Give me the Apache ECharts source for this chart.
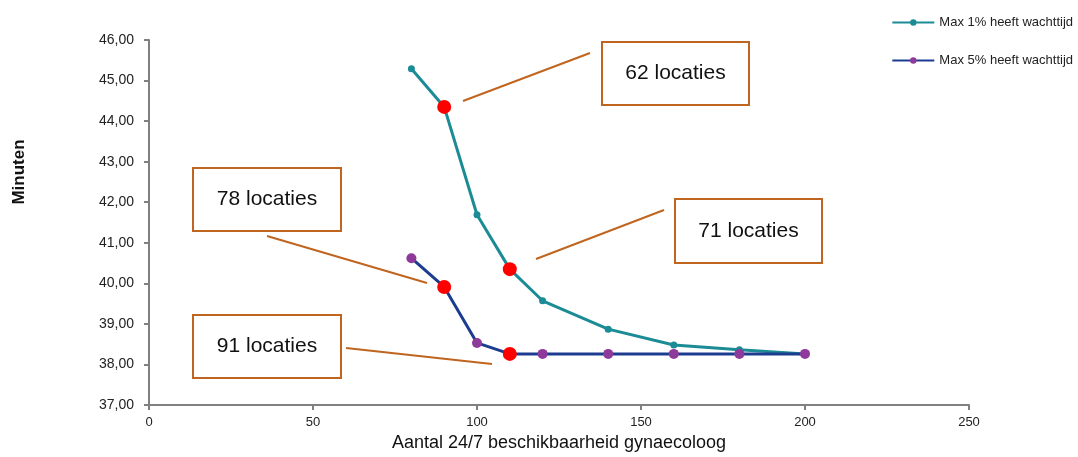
<!DOCTYPE html>
<html><head><meta charset="utf-8">
<script src="https://cdn.jsdelivr.net/npm/echarts@6/dist/echarts.min.js"></script>
<style>html,body{margin:0;padding:0;background:#fff}#c{width:1078px;height:457px}</style>
</head><body><div id="c"></div>
<script>
var xValues = [80, 90, 100, 110, 120, 140, 160, 180, 200];
var max1 = [45.29, 44.35, 41.69, 40.35, 39.57, 38.87, 38.48, 38.36, 38.26];
var max5 = [40.62, 39.91, 38.53, 38.26, 38.26, 38.26, 38.26, 38.26, 38.26];
var highlight1 = [90, 110];
var highlight5 = [90, 110];
var seriesNames = ['Max 1% heeft wachttijd', 'Max 5% heeft wachttijd'];
var annotations = ['62 locaties', '78 locaties', '71 locaties', '91 locaties'];
var yTitle = 'Minuten';
var xTitle = 'Aantal 24/7 beschikbaarheid gynaecoloog';

function build(vals, hl) {
  return xValues.map(function (x, i) {
    var p = { value: [x, vals[i]] };
    if (hl.indexOf(x) >= 0) { p.symbolSize = 14; p.itemStyle = { color: '#ff0000' }; }
    return p;
  });
}
var chart = echarts.init(document.getElementById('c'));
var font = 'Liberation Sans, Arial, sans-serif';
var orange = '#c0651f';
function box(x, y, w, h, text) {
  return {
    type: 'group', left: x, top: y, z: 10, children: [
      { type: 'rect', shape: { x: 0, y: 0, width: w, height: h }, style: { fill: '#fff', stroke: orange, lineWidth: 2 } },
      { type: 'text', x: w / 2, y: h / 2, style: { text: text, fill: '#111', font: '21px ' + font, textAlign: 'center', textVerticalAlign: 'middle' } }
    ]
  };
}
function line(x1, y1, x2, y2) {
  return { type: 'line', z: 10, shape: { x1: x1, y1: y1, x2: x2, y2: y2 }, style: { stroke: orange, lineWidth: 2 } };
}
chart.setOption({
  animation: false,
  grid: { left: 149, right: 109, top: 40, bottom: 52 },
  legend: {
    orient: 'vertical', right: 0, top: 11, itemGap: 25, itemWidth: 42, itemHeight: 8,
    textStyle: { fontFamily: font, fontSize: 13, color: '#222' },
    data: seriesNames
  },
  xAxis: {
    type: 'value', min: 0, max: 250, interval: 50,
    name: xTitle, nameLocation: 'middle', nameGap: 29,
    nameTextStyle: { fontFamily: font, fontSize: 18, color: '#111' },
    axisLine: { show: true, lineStyle: { color: '#808080', width: 2 } },
    axisTick: { show: true, length: 5, lineStyle: { color: '#808080', width: 2 } },
    axisLabel: { fontFamily: font, fontSize: 13, color: '#222', margin: 11 },
    splitLine: { show: false }
  },
  yAxis: {
    type: 'value', min: 37, max: 46, interval: 1,
    axisLine: { show: true, lineStyle: { color: '#808080', width: 2 } },
    axisTick: { show: true, length: 5, lineStyle: { color: '#808080', width: 2 } },
    axisLabel: { fontFamily: font, fontSize: 14, color: '#222', margin: 15,
      formatter: function (v) { return v.toFixed(2).replace('.', ','); } },
    splitLine: { show: false }
  },
  series: [
    { name: seriesNames[0], type: 'line', symbol: 'circle', symbolSize: 7,
      lineStyle: { color: '#1b8b95', width: 3 }, itemStyle: { color: '#1b8b95' },
      data: build(max1, highlight1) },
    { name: seriesNames[1], type: 'line', symbol: 'circle', symbolSize: 10,
      lineStyle: { color: '#1c3c8f', width: 3 }, itemStyle: { color: '#8e3a9a' },
      data: build(max5, highlight5) }
  ],
  graphic: [
    { type: 'text', x: 19, y: 172, rotation: Math.PI / 2, z: 10,
      style: { text: yTitle, fill: '#111', font: 'bold 17px ' + font, textAlign: 'center', textVerticalAlign: 'middle' } },
    line(463, 101, 590, 53),
    line(267, 236, 427, 283),
    line(536, 259, 664, 210),
    line(346, 348, 492, 364),
    box(601, 41, 147, 63, annotations[0]),
    box(192, 167, 148, 63, annotations[1]),
    box(674, 198, 147, 64, annotations[2]),
    box(192, 314, 148, 63, annotations[3])
  ]
});
</script></body></html>
